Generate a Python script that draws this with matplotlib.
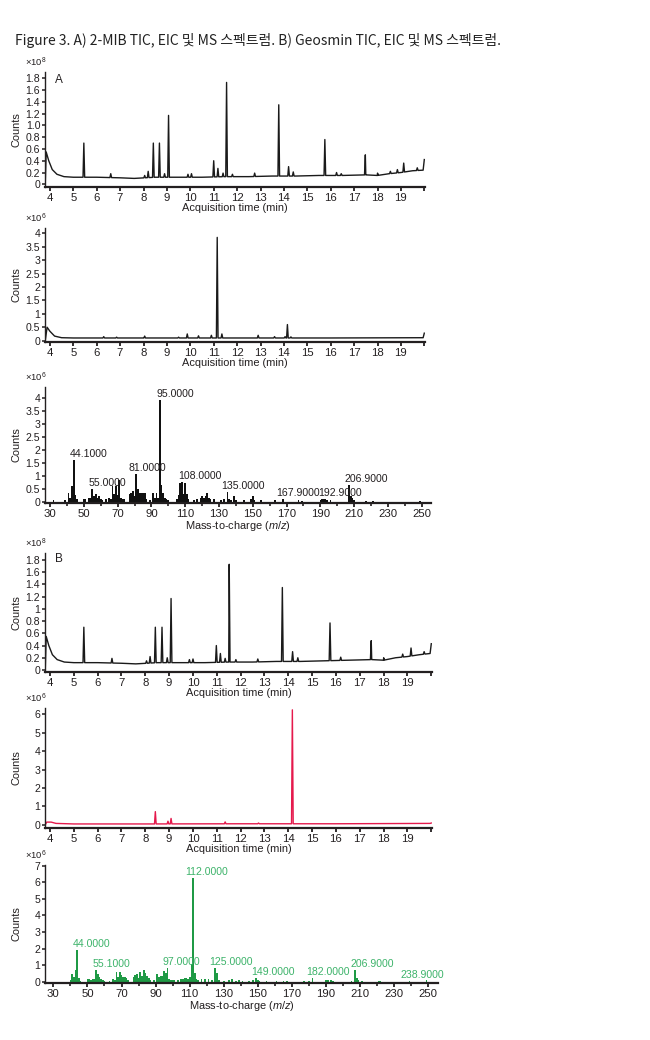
import numpy as np
import matplotlib
matplotlib.use("Agg")
import matplotlib.pyplot as plt

# ---- data ----
title = "Figure 3. A) 2-MIB TIC, EIC 및 MS 스펙트럼. B) Geosmin TIC, EIC 및 MS 스펙트럼."

# TIC A (x10^8): baseline knots and peaks (time, height)
tic_a_base = [(3.80, 0.0), (3.84, 0.55), (3.95, 0.40), (4.1, 0.25), (4.3, 0.17), (4.6, 0.13),
              (5.0, 0.12), (6.0, 0.12), (7.0, 0.11), (7.6, 0.10), (8.5, 0.12), (9.5, 0.12),
              (10.5, 0.12), (11.5, 0.13), (12.5, 0.13), (13.5, 0.14), (14.5, 0.14),
              (15.5, 0.15), (16.5, 0.15), (17.5, 0.16), (18.0, 0.15), (18.5, 0.18),
              (19.0, 0.20), (19.5, 0.23), (19.95, 0.24), (20.0, 0.42)]
tic_a_peaks = [(5.45, 0.70), (6.60, 0.18), (8.05, 0.15), (8.20, 0.22), (8.42, 0.70),
               (8.68, 0.70), (8.90, 0.18), (9.07, 1.17), (9.90, 0.17), (10.05, 0.18),
               (11.00, 0.40), (11.18, 0.27), (11.40, 0.19), (11.55, 1.73), (11.80, 0.17),
               (12.75, 0.19), (13.78, 1.35), (14.20, 0.30), (14.40, 0.21), (15.75, 0.76),
               (16.25, 0.20), (16.45, 0.18), (17.48, 0.50), (18.00, 0.19), (18.55, 0.22),
               (18.85, 0.25), (19.12, 0.36), (19.70, 0.28)]

# EIC A (x10^6)
eic_a_base = [(3.80, 0.0), (3.88, 0.50), (4.0, 0.35), (4.2, 0.17), (4.5, 0.11), (5.0, 0.10),
              (8.0, 0.10), (12.0, 0.10), (16.0, 0.10), (19.95, 0.11), (20.0, 0.28)]
eic_a_peaks = [(6.30, 0.15), (6.85, 0.13), (8.05, 0.17), (9.50, 0.13), (9.87, 0.25),
               (10.35, 0.18), (10.90, 0.20), (11.15, 3.85), (11.35, 0.25), (12.90, 0.20),
               (13.60, 0.15), (14.05, 0.15), (14.15, 0.60), (14.30, 0.14)]

# MS A (x10^6): m/z, intensity
ms_a_mz = [32, 39, 41, 42, 43, 44.1, 45, 46, 50, 51, 53, 54, 55, 56, 57, 58, 59, 60, 61, 63,
           65, 66, 67, 68, 69, 70, 71, 72, 73, 74, 77, 78, 79, 80, 81, 82, 83, 84, 85, 86,
           87, 89, 91, 92, 93, 94, 95, 96, 97, 98, 99, 100, 105, 106, 107, 108, 109, 110,
           111, 112, 115, 117, 119, 120, 121, 122, 123, 124, 125, 127, 131, 133, 135, 136,
           137, 139, 140, 145, 149, 150, 151, 155, 163, 168, 177, 179, 190, 191, 192, 193,
           194, 196, 207, 208, 209, 210, 217, 221, 249]
ms_a_int = [0.05, 0.05, 0.35, 0.15, 0.60, 1.60, 0.25, 0.10, 0.10, 0.12, 0.15, 0.15, 0.50,
            0.20, 0.30, 0.15, 0.20, 0.10, 0.05, 0.10, 0.15, 0.12, 0.60, 0.30, 0.60, 0.25,
            0.85, 0.15, 0.10, 0.10, 0.30, 0.35, 0.40, 0.20, 1.05, 0.50, 0.35, 0.35, 0.35,
            0.35, 0.10, 0.05, 0.35, 0.15, 0.35, 0.15, 3.90, 0.65, 0.35, 0.15, 0.10, 0.05,
            0.10, 0.25, 0.70, 0.75, 0.30, 0.70, 0.30, 0.10, 0.05, 0.10, 0.15, 0.20, 0.15,
            0.20, 0.35, 0.15, 0.10, 0.10, 0.05, 0.10, 0.38, 0.10, 0.05, 0.20, 0.05, 0.05,
            0.10, 0.20, 0.05, 0.05, 0.05, 0.10, 0.05, 0.04, 0.05, 0.12, 0.10, 0.12, 0.05,
            0.05, 0.65, 0.20, 0.15, 0.05, 0.03, 0.04, 0.03]
ms_a_labels = ["44.1000", "55.0000", "81.0000", "95.0000", "108.0000", "135.0000",
               "167.9000", "192.9000", "206.9000"]
ms_a_lab_mz = [44.1, 55, 81, 95, 108, 135, 168, 193, 207]
ms_a_lab_y = [1.60, 0.50, 1.05, 3.90, 0.75, 0.38, 0.10, 0.12, 0.65]
ms_a_lab_dx = [-4, -4, -8, -3, -4, -6, -7, -7, -5]   # pixel nudges used in the original

# TIC B (x10^8)
tic_b_base = [(3.80, 0.0), (3.84, 0.55), (3.95, 0.40), (4.1, 0.25), (4.3, 0.17), (4.6, 0.13),
              (5.0, 0.12), (6.0, 0.12), (7.0, 0.11), (7.6, 0.10), (8.5, 0.12), (9.5, 0.12),
              (10.5, 0.12), (11.5, 0.13), (12.5, 0.13), (13.5, 0.14), (14.5, 0.14),
              (15.5, 0.15), (16.5, 0.16), (17.5, 0.17), (18.0, 0.16), (18.5, 0.20),
              (19.0, 0.22), (19.5, 0.25), (19.95, 0.27), (20.0, 0.43)]
tic_b_peaks = [(5.42, 0.70), (6.60, 0.19), (8.05, 0.15), (8.20, 0.22), (8.42, 0.70),
               (8.70, 0.70), (8.92, 0.20), (9.08, 1.17), (9.85, 0.17), (10.00, 0.18),
               (10.98, 0.40), (11.15, 0.27), (11.35, 0.19), (11.52, 1.73), (11.80, 0.17),
               (12.72, 0.18), (13.75, 1.35), (14.18, 0.30), (14.40, 0.20), (15.75, 0.77),
               (16.20, 0.21), (17.48, 0.48), (18.00, 0.20), (18.80, 0.26), (19.15, 0.36),
               (19.70, 0.30)]

# EIC B (x10^6)
eic_b_base = [(3.80, 0.0), (3.86, 0.15), (4.05, 0.15), (4.25, 0.08), (5.0, 0.05), (8.0, 0.05),
              (12.0, 0.06), (16.0, 0.06), (19.95, 0.08), (20.0, 0.10)]
eic_b_peaks = [(8.42, 0.72), (8.95, 0.20), (9.08, 0.35), (11.35, 0.16), (12.75, 0.10),
               (14.17, 6.25)]

# MS B (x10^6)
ms_b_mz = [40, 41, 42, 43, 44, 45, 46, 50, 51, 52, 53, 54, 55, 56, 57, 58, 59, 60, 63, 65,
           66, 67, 68, 69, 70, 71, 72, 73, 74, 77, 78, 79, 80, 81, 82, 83, 84, 85, 86, 87,
           89, 91, 92, 93, 94, 95, 96, 97, 98, 99, 100, 101, 103, 105, 106, 107, 108, 109,
           110, 111, 112, 113, 114, 115, 117, 119, 121, 123, 125, 126, 127, 130, 133, 135,
           137, 139, 141, 145, 147, 149, 150, 151, 155, 161, 165, 167, 177, 180, 182, 190,
           191, 193, 194, 205, 207, 208, 209, 211, 221, 222, 239, 249]
ms_b_int = [0.10, 0.45, 0.30, 0.70, 1.90, 0.25, 0.05, 0.15, 0.15, 0.10, 0.15, 0.15, 0.70,
            0.45, 0.30, 0.15, 0.10, 0.05, 0.05, 0.15, 0.10, 0.60, 0.30, 0.60, 0.40, 0.30,
            0.30, 0.20, 0.10, 0.30, 0.40, 0.45, 0.20, 0.60, 0.35, 0.70, 0.55, 0.35, 0.20,
            0.10, 0.10, 0.45, 0.30, 0.35, 0.35, 0.65, 0.55, 0.80, 0.15, 0.10, 0.10, 0.10,
            0.10, 0.15, 0.15, 0.20, 0.20, 0.15, 0.30, 1.05, 6.25, 0.55, 0.15, 0.10, 0.15,
            0.15, 0.15, 0.10, 0.85, 0.50, 0.10, 0.05, 0.10, 0.15, 0.05, 0.10, 0.05, 0.05,
            0.10, 0.25, 0.10, 0.05, 0.05, 0.05, 0.05, 0.05, 0.05, 0.05, 0.20, 0.10, 0.10,
            0.10, 0.05, 0.05, 0.70, 0.20, 0.10, 0.05, 0.05, 0.05, 0.05, 0.08]
ms_b_labels = ["44.0000", "55.1000", "97.0000", "112.0000", "125.0000", "149.0000",
               "182.0000", "206.9000", "238.9000"]
ms_b_lab_mz = [44, 55.1, 97, 112, 125, 149, 182, 207, 239]
ms_b_lab_y = [1.90, 0.70, 0.80, 6.25, 0.85, 0.25, 0.20, 0.70, 0.05]
ms_b_lab_dx = [-4, -4, -5, -8, -6, -5, -6, -5, -9]

# ---- style ----
SANS = ['Liberation Sans', 'DejaVu Sans']
INK = '#231f20'
RED = '#e5194c'
GREEN = '#1f9a45'
GREEN_TXT = '#3db36a'
W, H = 650, 1040
FS = 7.9

plt.rcParams['font.family'] = SANS
plt.rcParams['mathtext.fontset'] = 'custom'
plt.rcParams['mathtext.rm'] = 'Liberation Sans'
plt.rcParams['mathtext.it'] = 'Liberation Sans:italic'

fig = plt.figure(figsize=(W / 100, H / 100), dpi=100)
fig.text(15 / W, 1 - 40 / H, title, family=['Noto Sans CJK KR', 'DejaVu Sans'],
         fontsize=10, color='#222222', va='center', ha='left')


def make_ax(left, right, top, bottom):
    return fig.add_axes([left / W, 1 - bottom / H, (right - left) / W, (bottom - top) / H])


def style_ax(ax, yticks, ylabels, exp, left_px, right_px, top_px):
    for s in ['top', 'right']:
        ax.spines[s].set_visible(False)
    ax.spines['left'].set_linewidth(1.0)
    ax.spines['bottom'].set_linewidth(1.6)
    ax.spines['left'].set_color(INK)
    ax.spines['bottom'].set_color(INK)
    ax.tick_params(axis='x', which='major', direction='out', length=3, width=1.3,
                   colors=INK, labelsize=8.2, pad=1.5)
    ax.tick_params(axis='y', which='major', direction='out', length=2.2, width=1.1,
                   colors=INK, labelsize=7.6, pad=1.2)
    ax.tick_params(axis='x', which='minor', direction='out', length=2.5, width=1.2, colors=INK)
    ax.set_yticks(yticks)
    ax.set_yticklabels(ylabels)
    ax.set_ylabel('Counts', fontsize=FS, color=INK)
    ax.yaxis.set_label_coords((22 - left_px) / (right_px - left_px), 0.5)
    fig.text((left_px - 20) / W, 1 - (top_px - 10) / H, '×10$^{%d}$' % exp, fontsize=6.8,
             color=INK, va='center', ha='left')


def chrom(ax, base, peaks, color, hw=0.035):
    bt = [b[0] for b in base]
    by = [b[1] for b in base]
    pts = list(base)
    for t, h in peaks:
        pts.append((t - hw, np.interp(t - hw, bt, by)))
        pts.append((t, h))
        pts.append((t + hw, np.interp(t + hw, bt, by)))
    pts.sort(key=lambda p: p[0])
    ax.plot([p[0] for p in pts], [p[1] for p in pts], color=color, lw=1.0)
    ax.set_xlim(3.79, 20.03)
    ax.set_xticks(range(4, 21))
    ax.set_xticklabels([str(i) for i in range(4, 20)] + [''])
    ax.set_xlabel('Acquisition time (min)', fontsize=FS, color=INK, labelpad=0)


def spectrum(ax, mz, inten, labels, lab_mz, lab_y, lab_dx, color, txtcolor):
    ax.bar(mz, inten, width=1.0, color=color, linewidth=0)
    for lab, x, y, dx in zip(labels, lab_mz, lab_y, lab_dx):
        ax.annotate(lab, (x, y), xytext=(dx, 3), textcoords='offset pixels',
                    fontsize=7.6, color=txtcolor, ha='left', va='baseline')
    ax.set_xticks(range(30, 251, 20))
    ax.set_xticks(range(40, 251, 20), minor=True)
    ax.set_xlabel('Mass-to-charge ($\\it{m/z}$)', fontsize=FS, color=INK, labelpad=0)


# A) TIC
ax1 = make_ax(45, 425, 72, 187)
chrom(ax1, tic_a_base, tic_a_peaks, '#1a1a1a')
ax1.set_ylim(-0.046, 1.907)
style_ax(ax1, np.arange(0, 1.81, 0.2), ['0', '0.2', '0.4', '0.6', '0.8', '1.0', '1.2', '1.4',
                                         '1.6', '1.8'], 8, 45, 425, 72)
fig.text(55 / W, 1 - 80 / H, 'A', fontsize=8.5, color=INK, va='center')

# A) EIC
ax2 = make_ax(45, 425, 228, 342)
chrom(ax2, eic_a_base, eic_a_peaks, '#1a1a1a')
ax2.set_ylim(-0.05, 4.2)
style_ax(ax2, np.arange(0, 4.01, 0.5), ['0', '0.5', '1', '1.5', '2', '2.5', '3', '3.5', '4'],
         6, 45, 425, 228)

# A) MS
ax3 = make_ax(45, 431, 387, 503)
spectrum(ax3, ms_a_mz, ms_a_int, ms_a_labels, ms_a_lab_mz, ms_a_lab_y, ms_a_lab_dx,
         '#111111', INK)
ax3.set_xlim(27, 255.5)
ax3.set_ylim(-0.05, 4.41)
style_ax(ax3, np.arange(0, 4.01, 0.5), ['0', '0.5', '1', '1.5', '2', '2.5', '3', '3.5', '4'],
         6, 45, 431, 387)

# B) TIC
ax4 = make_ax(45, 432, 553, 672)
chrom(ax4, tic_b_base, tic_b_peaks, '#1a1a1a')
ax4.set_ylim(-0.033, 1.915)
style_ax(ax4, np.arange(0, 1.81, 0.2), ['0', '0.2', '0.4', '0.6', '0.8', '1', '1.2', '1.4',
                                         '1.6', '1.8'], 8, 45, 432, 553)
fig.text(55 / W, 1 - 559 / H, 'B', fontsize=8.5, color=INK, va='center')

# B) EIC
ax5 = make_ax(45, 432, 708, 828)
chrom(ax5, eic_b_base, eic_b_peaks, RED)
ax5.set_ylim(-0.17, 6.35)
style_ax(ax5, range(0, 7), [str(i) for i in range(0, 7)], 6, 45, 432, 708)

# B) MS
ax6 = make_ax(45, 438, 865, 983)
spectrum(ax6, ms_b_mz, ms_b_int, ms_b_labels, ms_b_lab_mz, ms_b_lab_y, ms_b_lab_dx,
         GREEN, GREEN_TXT)
ax6.set_xlim(25.1, 255.7)
ax6.set_ylim(-0.08, 7.04)
style_ax(ax6, range(0, 8), [str(i) for i in range(0, 8)], 6, 45, 438, 865)

fig.savefig('out.png', dpi=100)
